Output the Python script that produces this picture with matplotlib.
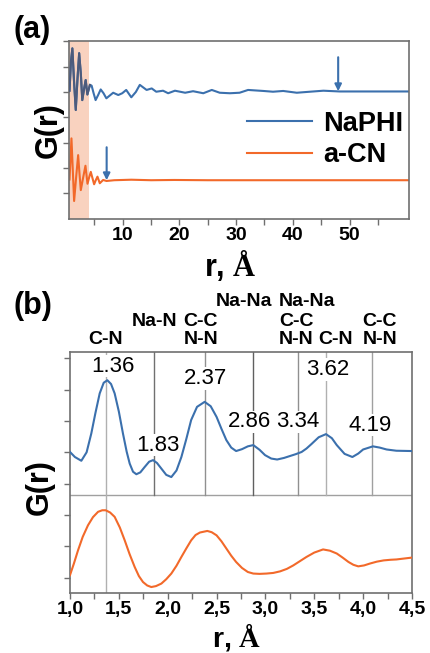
import numpy as np
import matplotlib
matplotlib.use('Agg')
import matplotlib.pyplot as plt
from matplotlib.ticker import MultipleLocator

plt.rcParams['font.family'] = ['Liberation Sans', 'DejaVu Sans']
plt.rcParams['mathtext.fontset'] = 'custom'
plt.rcParams['mathtext.bf'] = 'Liberation Serif:bold'
plt.rcParams['mathtext.rm'] = 'Liberation Serif:bold'

# ---- panel (a) data: long range G(r), curves offset vertically ----
r_a_phi = [0.6, 0.85, 1.1, 1.4, 1.7, 2.0, 2.3, 2.6, 2.85, 3.15, 3.45, 3.75, 4.2, 4.5,
           4.85, 5.2, 5.65, 6.1, 6.6, 7.1, 7.7, 8.3, 9.2, 9.9, 10.6, 11.5, 12.3,
           13.0, 13.6, 14.2, 15.1, 15.9, 17.1, 18.0, 19.2, 21.0, 22.4, 24.2, 25.7,
           27.1, 28.9, 30.6, 32.1, 34.8, 36.5, 38.3, 40.7, 43.0, 45.4, 48.3, 53.6,
           60.5]
g_a_phi = [4.05, 5.20, 5.72, 4.40, 3.29, 4.50, 5.53, 4.70, 3.68, 4.10, 4.47, 3.90,
           4.28, 4.25, 3.95, 3.68, 3.88, 4.10, 3.95, 3.75, 3.86, 3.97, 3.88, 3.95,
           4.08, 3.79, 4.00, 4.28, 4.18, 4.08, 4.14, 4.01, 4.05, 3.95, 4.05, 3.97,
           4.03, 3.95, 4.08, 3.97, 3.95, 3.97, 4.08, 4.04, 4.01, 4.04, 3.97, 4.01,
           4.05, 4.02, 4.02, 4.02]
r_a_cn = [0.6, 0.94, 1.18, 1.41, 1.75, 2.12, 2.35, 2.59, 3.0, 3.41, 3.6, 3.77, 4.05,
          4.35, 4.65, 4.94, 5.23, 5.53, 5.94, 6.53, 7.12, 8.5, 11.5, 15.0, 19.1,
          25.0, 35.0, 45.0, 60.5]
g_a_cn = [0.55, 2.17, 0.90, -0.30, 0.60, 1.51, 0.80, 0.13, 0.62, 1.09, 0.72, 0.38,
          0.62, 0.85, 0.60, 0.36, 0.52, 0.66, 0.40, 0.53, 0.49, 0.52, 0.54, 0.52,
          0.53, 0.52, 0.52, 0.52, 0.52]
shade_range = (0.5, 4.0)
arrows_a = [(48.0, 5.37, 4.03), (7.15, 1.82, 0.52)]
ticks_a = [10, 20, 30, 40, 50]
minor_a = [5, 15, 25, 35, 45, 55]

# ---- panel (b) data: short range G(r) ----
r_b_phi = [1.00, 1.05, 1.116, 1.17, 1.218, 1.26, 1.304, 1.345, 1.382, 1.42, 1.457,
           1.50, 1.542, 1.58, 1.611, 1.645, 1.679, 1.72, 1.764, 1.81, 1.85, 1.89,
           1.935, 1.985, 2.037, 2.09, 2.14, 2.19, 2.24, 2.30, 2.378, 2.44, 2.50,
           2.55, 2.60, 2.65, 2.70, 2.76, 2.82, 2.876, 2.94, 2.996, 3.06, 3.12, 3.19,
           3.25, 3.31, 3.37, 3.42, 3.47, 3.545, 3.62, 3.68, 3.73, 3.81, 3.89, 3.95,
           4.00, 4.10, 4.17, 4.24, 4.34, 4.50]
g_b_phi = [4.01, 3.85, 3.73, 4.00, 4.60, 5.25, 5.88, 6.22, 6.30, 6.18, 5.88, 5.30,
           4.60, 4.02, 3.64, 3.38, 3.30, 3.36, 3.53, 3.70, 3.75, 3.66, 3.48, 3.28,
           3.21, 3.42, 3.85, 4.42, 5.03, 5.45, 5.61, 5.47, 5.13, 4.75, 4.39, 4.15,
           4.04, 4.10, 4.19, 4.23, 4.08, 3.91, 3.80, 3.77, 3.82, 3.88, 3.94, 4.01,
           4.12, 4.26, 4.48, 4.58, 4.45, 4.23, 3.95, 3.85, 3.96, 4.09, 4.19, 4.15,
           4.09, 4.05, 4.04]
r_b_cn = [1.00, 1.04, 1.082, 1.13, 1.184, 1.235, 1.287, 1.33, 1.365, 1.41, 1.457,
          1.51, 1.56, 1.61, 1.662, 1.705, 1.747, 1.79, 1.832, 1.88, 1.935, 1.985,
          2.037, 2.09, 2.14, 2.19, 2.24, 2.285, 2.33, 2.405, 2.45, 2.50, 2.55, 2.60,
          2.65, 2.70, 2.76, 2.82, 2.876, 2.94, 3.01, 3.08, 3.15, 3.22, 3.285, 3.35,
          3.42, 3.50, 3.59, 3.66, 3.73, 3.79, 3.85, 3.90, 3.95, 4.01, 4.07, 4.14,
          4.21, 4.28, 4.34, 4.42, 4.50]
g_b_cn = [0.08, 0.45, 0.87, 1.30, 1.67, 1.93, 2.10, 2.15, 2.15, 2.08, 1.94, 1.60,
          1.19, 0.75, 0.34, 0.05, -0.14, -0.25, -0.30, -0.27, -0.19, -0.05, 0.13,
          0.38, 0.66, 0.93, 1.19, 1.36, 1.44, 1.49, 1.45, 1.35, 1.16, 0.93, 0.70,
          0.50, 0.31, 0.18, 0.13, 0.12, 0.13, 0.15, 0.20, 0.28, 0.39, 0.52, 0.66,
          0.80, 0.90, 0.86, 0.77, 0.64, 0.50, 0.41, 0.36, 0.39, 0.45, 0.51, 0.55,
          0.57, 0.58, 0.61, 0.64]
ticks_b = [1.0, 1.5, 2.0, 2.5, 3.0, 3.5, 4.0, 4.5]
tick_labels_b = ['1,0', '1,5', '2,0', '2,5', '3,0', '3,5', '4,0', '4,5']
split_level = 2.64
peak_lines = [1.37, 1.857, 2.378, 2.876, 3.33, 3.62, 4.09]
line_greys = ['#b0b0b0', '#707070', '#909090', '#606060', '#909090', '#b0b0b0', '#a0a0a0']
peak_labels = ['1.36', '1.83', '2.37', '2.86', '3.34', '3.62', '4.19']
peak_label_x = [1.437, 1.90, 2.385, 2.84, 3.33, 3.64, 4.07]
peak_label_y = [6.75, 4.23, 6.36, 4.97, 4.97, 6.64, 4.87]
# bond labels above panel (b): (x, row, text, ha)  row 0 = top row
bond_labels = [(2.78, 0, 'Na-Na', 'center'), (3.14, 0, 'Na-Na', 'left'),
               (1.87, 1, 'Na-N', 'center'), (2.34, 1, 'C-C', 'center'),
               (3.14, 1, 'C-C', 'left'), (4.17, 1, 'C-C', 'center'),
               (1.36, 2, 'C-N', 'center'), (2.34, 2, 'N-N', 'center'),
               (3.14, 2, 'N-N', 'left'), (3.72, 2, 'C-N', 'center'),
               (4.17, 2, 'N-N', 'center')]
row_offsets = [36.5, 22.0, 8.7]

blue = '#3b70ad'
blue_dark = '#4d5b7c'
orange = '#f2692a'
spine_c = '#6f6f6f'

fig = plt.figure(figsize=(4.31, 6.53), dpi=100)
ax_a = fig.add_axes([0.160, 0.6646, 0.789, 0.2726])
ax_b = fig.add_axes([0.1624, 0.0919, 0.7935, 0.369])

for ax in (ax_a, ax_b):
    for s in ax.spines.values():
        s.set_color(spine_c)
        s.set_linewidth(1.2)
    ax.tick_params(which='both', direction='out', length=4, width=1, color=spine_c,
                   labelsize=14, pad=2)

# panel (a)
r_phi = np.array(r_a_phi)
g_phi = np.array(g_a_phi)
inside = r_phi <= 4.3
ax_a.axvspan(*shade_range, color='#f9d2bf', zorder=0, lw=0)
ax_a.plot(r_phi, g_phi, color=blue, lw=1.5, zorder=2, label='NaPHI',
          solid_joinstyle='round')
ax_a.plot(r_phi[inside], g_phi[inside], color=blue_dark, lw=1.5, zorder=3,
          solid_joinstyle='round')
ax_a.plot(r_a_cn, g_a_cn, color=orange, lw=1.5, zorder=2, label='a-CN',
          solid_joinstyle='round')
for x, y0, y1 in arrows_a:
    ax_a.annotate('', xy=(x, y1), xytext=(x, y0),
                  arrowprops=dict(arrowstyle='-|>', color=blue, lw=1.5,
                                  mutation_scale=10, shrinkA=0, shrinkB=0))
ax_a.set_xlim(0.5, 60.5)
ax_a.set_ylim(-1.01, 6.01)
ax_a.set_xticks(ticks_a)
ax_a.set_xticklabels([str(t) for t in ticks_a], fontweight='bold')
ax_a.set_xticks(minor_a, minor=True)
ax_a.set_yticks(range(0, 7))
ax_a.set_yticklabels([])
leg = ax_a.legend(loc='center left', bbox_to_anchor=(0.525, 0.447), frameon=False,
                  prop={'weight': 'bold', 'size': 19.5}, handlelength=2.4,
                  handletextpad=0.4, labelspacing=0.2, borderpad=0, borderaxespad=0)
ax_a.text(0.474, -0.32, r'r, $\mathbf{\AA}$', transform=ax_a.transAxes, ha='center',
          va='baseline', fontsize=22, fontweight='bold')
ax_a.text(-0.06, 0.5, 'G(r)', transform=ax_a.transAxes, rotation=90, ha='center',
          va='center', fontsize=22, fontweight='bold')

# panel (b)
ax_b.plot(r_b_phi, g_b_phi, color=blue, lw=1.5, zorder=3, solid_joinstyle='round')
ax_b.plot(r_b_cn, g_b_cn, color=orange, lw=1.5, zorder=3, solid_joinstyle='round')
ax_b.axhline(split_level, color='#a0a0a0', lw=1.0, zorder=1)
for i, (x, c) in enumerate(zip(peak_lines, line_greys)):
    ymin = -0.5 if i == 0 else split_level
    ax_b.plot([x, x], [ymin, 7.3], color=c, lw=1.0, zorder=1)
for t, x, y in zip(peak_labels, peak_label_x, peak_label_y):
    ax_b.text(x, y, t, ha='center', va='center', fontsize=16, zorder=2,
              bbox=dict(facecolor='white', edgecolor='none', pad=0.5))
for x, row, t, ha in bond_labels:
    ax_b.annotate(t, xy=(x, 1.0), xycoords=('data', 'axes fraction'),
                  xytext=(0, row_offsets[row]), textcoords='offset points',
                  ha=ha, va='center', fontsize=14, fontweight='bold',
                  annotation_clip=False)
ax_b.set_xlim(1.0, 4.5)
ax_b.set_ylim(-0.49, 7.2)
ax_b.set_xticks(ticks_b)
ax_b.set_xticklabels(tick_labels_b, fontweight='bold')
ax_b.xaxis.set_minor_locator(MultipleLocator(0.25))
ax_b.set_yticks(range(0, 8))
ax_b.set_yticklabels([])
ax_b.text(0.488, -0.249, r'r, $\mathbf{\AA}$', transform=ax_b.transAxes, ha='center',
          va='bottom', fontsize=20.5, fontweight='bold')
ax_b.text(-0.088, 0.44, 'G(r)', transform=ax_b.transAxes, rotation=90, ha='center',
          va='center', fontsize=22, fontweight='bold')

fig.text(0.074, 0.954, '(a)', ha='center', va='center', fontsize=22, fontweight='bold')
fig.text(0.077, 0.531, '(b)', ha='center', va='center', fontsize=22, fontweight='bold')

fig.savefig('out.png', dpi=100)
